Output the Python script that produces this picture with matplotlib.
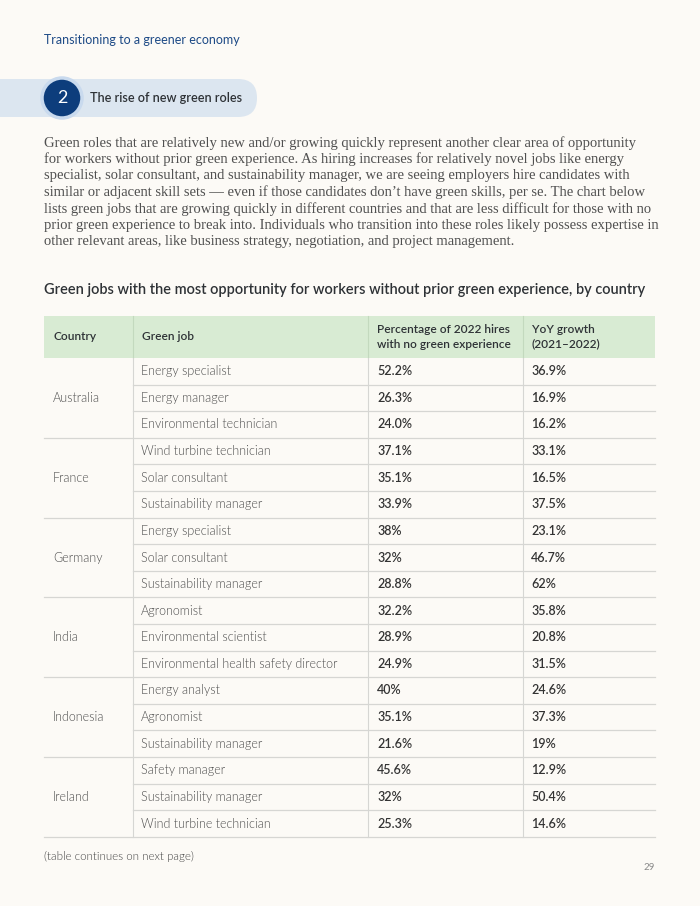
import matplotlib
matplotlib.use('Agg')
import matplotlib.pyplot as plt
from matplotlib.patches import FancyBboxPatch, Circle, Rectangle

# ---- data ----
countries = ['Australia', 'France', 'Germany', 'India', 'Indonesia', 'Ireland']
jobs = [
    'Energy specialist', 'Energy manager', 'Environmental technician',
    'Wind turbine technician', 'Solar consultant', 'Sustainability manager',
    'Energy specialist', 'Solar consultant', 'Sustainability manager',
    'Agronomist', 'Environmental scientist', 'Environmental health safety director',
    'Energy analyst', 'Agronomist', 'Sustainability manager',
    'Safety manager', 'Sustainability manager', 'Wind turbine technician',
]
pct_no_green = ['52.2%', '26.3%', '24.0%',
                '37.1%', '35.1%', '33.9%',
                '38%', '32%', '28.8%',
                '32.2%', '28.9%', '24.9%',
                '40%', '35.1%', '21.6%',
                '45.6%', '32%', '25.3%']
yoy_growth = ['36.9%', '16.9%', '16.2%',
              '33.1%', '16.5%', '37.5%',
              '23.1%', '46.7%', '62%',
              '35.8%', '20.8%', '31.5%',
              '24.6%', '37.3%', '19%',
              '12.9%', '50.4%', '14.6%']
header = ['Country', 'Green job', 'Percentage of 2022 hires\nwith no green experience',
          'YoY growth\n(2021–2022)']

paragraph = [
    "Green roles that are relatively new and/or growing quickly represent another clear area of opportunity",
    "for workers without prior green experience. As hiring increases for relatively novel jobs like energy",
    "specialist, solar consultant, and sustainability manager, we are seeing employers hire candidates with",
    "similar or adjacent skill sets — even if those candidates don’t have green skills, per se. The chart below",
    "lists green jobs that are growing quickly in different countries and that are less difficult for those with no",
    "prior green experience to break into. Individuals who transition into these roles likely possess expertise in",
    "other relevant areas, like business strategy, negotiation, and project management.",
]

BG = '#FCFAF6'
SANS = ['Lato', 'DejaVu Sans']
SERIF = ['Liberation Serif', 'DejaVu Serif']
LINE = '#D6D6D3'
DARK = '#2E3236'
GREY = '#4E4E4E'

fig = plt.figure(figsize=(7, 9.06), dpi=100, facecolor=BG)
ax = fig.add_axes([0, 0, 1, 1])
ax.set_xlim(0, 700)
ax.set_ylim(906, 0)
ax.axis('off')
ax.set_facecolor(BG)

# page header
ax.text(44, 40, 'Transitioning to a greener economy', family=SANS, fontsize=9,
        color='#1D4A86', va='center', ha='left')

# section pill
ax.add_patch(FancyBboxPatch((-30, 79), 287, 38, boxstyle='round,pad=0,rounding_size=19',
                            facecolor='#DCE6F0', edgecolor='none'))
ax.add_patch(Circle((62, 98), 20, facecolor='#0D3D7C', edgecolor='#C9DAEE', linewidth=2.5))
ax.text(62, 98, '2', family=SANS, fontsize=13, color='white', ha='center', va='center')
ax.text(90, 98, 'The rise of new green roles', family=SANS, fontsize=9.1, fontweight=600,
        color=DARK, ha='left', va='center')

# paragraph
for i, line in enumerate(paragraph):
    ax.text(44, 143 + i * 16.5, line, family=SERIF, fontsize=10.5, color='#505050',
            ha='left', va='center')

# chart title
ax.text(44, 290, 'Green jobs with the most opportunity for workers without prior green experience, by country',
        family=SANS, fontsize=10.45, fontweight=600, color=DARK, ha='left', va='center')

# table geometry
x0, x1 = 44, 655
col_x = [44, 133, 368, 523]
head_top, head_bot = 316, 358
row_h = 26.6

ax.add_patch(Rectangle((x0, head_top), x1 - x0, head_bot - head_top,
                       facecolor='#D8EBD3', edgecolor='none'))
for cx in col_x[1:]:
    ax.plot([cx, cx], [head_top, head_bot], color='#C3D9BE', lw=0.8)
for j, h in enumerate(header):
    ax.text(col_x[j] + 9, (head_top + head_bot) / 2, h, family=SANS, fontsize=8.6,
            fontweight=600, color=DARK, ha='left', va='center', linespacing=1.35)

n_rows = len(jobs)
per = n_rows // len(countries)
table_bot = head_bot + n_rows * row_h
for cx in col_x[1:]:
    ax.plot([cx, cx], [head_bot, table_bot], color=LINE, lw=0.8)

for r in range(n_rows):
    yc = head_bot + (r + 0.5) * row_h
    yb = head_bot + (r + 1) * row_h
    group_end = (r + 1) % per == 0
    ax.plot([x0 if group_end else col_x[1], x1], [yb, yb], color=LINE, lw=0.9)
    ax.text(col_x[1] + 8, yc, jobs[r], family=SANS, fontsize=9, fontweight=300,
            color=GREY, ha='left', va='center')
    ax.text(col_x[2] + 9, yc, pct_no_green[r], family=SANS, fontsize=9,
            fontweight=600, color='#333333', ha='left', va='center')
    ax.text(col_x[3] + 8, yc, yoy_growth[r], family=SANS, fontsize=9,
            fontweight=600, color='#333333', ha='left', va='center')

for g, c in enumerate(countries):
    yc = head_bot + (g * per + per / 2) * row_h
    ax.text(53, yc, c, family=SANS, fontsize=9, fontweight=300, color=GREY,
            ha='left', va='center')

ax.text(44, 856, '(table continues on next page)', family=SANS, fontsize=8.3,
        fontweight=300, color='#444444', ha='left', va='center')
ax.text(655, 868, '29', family=SANS, fontsize=7, color='#8A8A8A', ha='right', va='center')

fig.savefig('out.png', dpi=100, facecolor=BG)
